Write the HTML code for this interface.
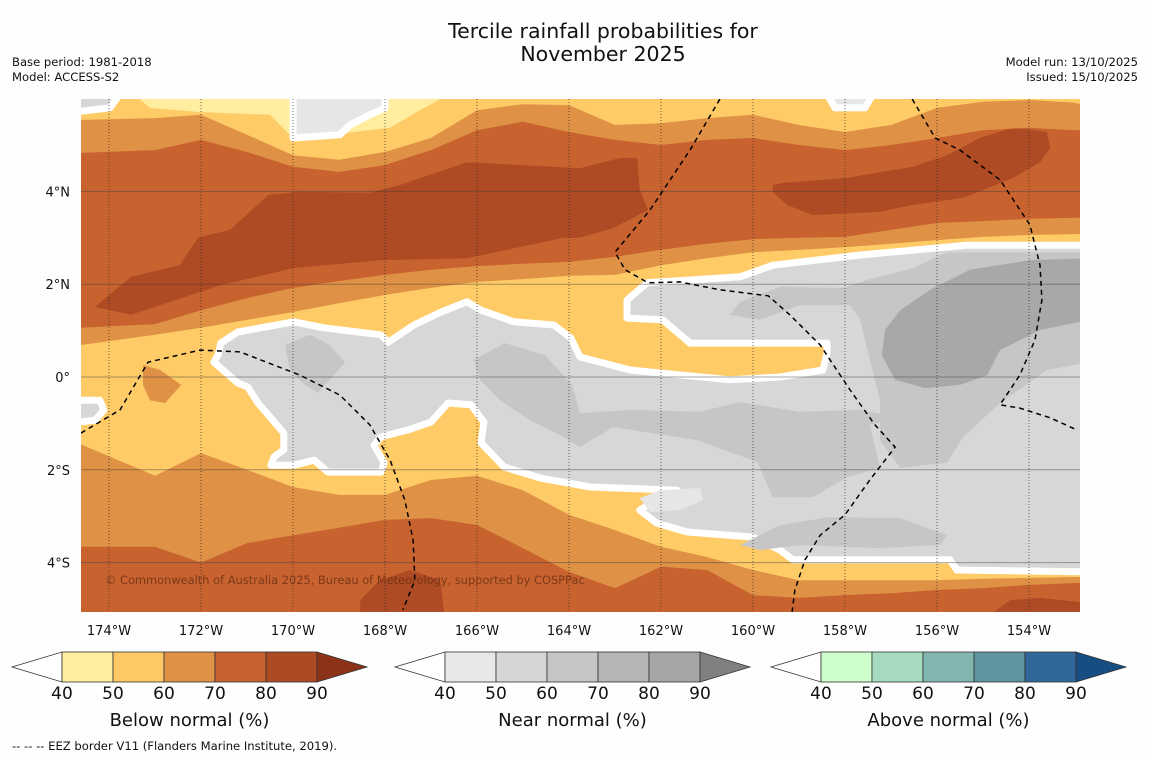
<!DOCTYPE html>
<html><head><meta charset="utf-8"><style>
html,body{margin:0;padding:0;background:#fff;}
svg{display:block;font-family:"DejaVu Sans","Liberation Sans",sans-serif;}
</style></head><body>
<svg id="chart" width="1150" height="758" viewBox="0 0 1150 758" xmlns="http://www.w3.org/2000/svg">
<rect width="1150" height="758" fill="#fefefe"/>
<text x="603" y="38" text-anchor="middle" font-size="20.5" fill="#111">Tercile rainfall probabilities for</text>
<text x="603" y="61" text-anchor="middle" font-size="20.5" fill="#111">November 2025</text>
<text x="12" y="66" font-size="11.6" fill="#111">Base period: 1981-2018</text>
<text x="12" y="81" font-size="11.6" fill="#111">Model: ACCESS-S2</text>
<text x="1138" y="66" font-size="11.6" text-anchor="end" fill="#111">Model run: 13/10/2025</text>
<text x="1138" y="81" font-size="11.6" text-anchor="end" fill="#111">Issued: 15/10/2025</text>
<defs><clipPath id="mapclip"><rect x="81" y="99" width="999" height="513"/></clipPath></defs>
<g id="map" clip-path="url(#mapclip)"></g>
<g id="axes"></g>
<g id="legend"></g>
<text x="12" y="750" font-size="11.6" fill="#111">--  --  -- EEZ border V11 (Flanders Marine Institute, 2019).</text>
</svg>
<script>
// ---- data ----
const lonTicks = [-174,-172,-170,-168,-166,-164,-162,-160,-158,-156,-154];
const latTicks = [4,2,0,-2,-4];
const sampleLon = [-174.61,-173,-172,-171,-170,-169,-168,-167,-166,-165,-164,-163,-162,-161,-160,-159,-158,-157,-156,-155,-154,-153,-152.89];
const northOrangeBottom = [0.69,0.91,1.06,1.23,1.40,1.59,1.77,1.92,2.05,2.11,2.18,2.20,2.41,2.56,2.69,2.74,2.80,2.87,2.95,3.02,3.06,3.08,3.08];
const northRedBottom = [1.06,1.14,1.44,1.70,1.92,2.07,2.20,2.31,2.39,2.44,2.48,2.59,2.74,2.87,2.97,3.00,3.02,3.17,3.32,3.36,3.41,3.43,3.43];
const northRedTop = [4.83,4.89,5.11,4.85,4.53,4.42,4.57,4.89,5.32,5.50,5.28,5.11,5.00,5.11,5.15,5.00,4.89,5.00,5.15,5.32,5.37,5.32,5.32];
const northOrangeTop = [5.54,5.58,5.65,5.22,4.78,4.68,4.85,5.15,5.75,5.88,5.86,5.43,5.47,5.58,5.65,5.43,5.28,5.43,5.80,5.93,5.97,5.91,5.88];
const southOrangeTop = [-1.45,-2.13,-1.64,-2.00,-2.37,-2.54,-2.54,-2.22,-2.13,-2.44,-2.97,-3.30,-3.66,-3.88,-4.16,-4.38,-4.38,-4.38,-4.38,-4.35,-4.33,-4.31,-4.31];
const southRedTop = [-3.66,-3.66,-4.00,-3.58,-3.41,-3.25,-3.08,-3.04,-3.19,-3.69,-4.20,-4.55,-4.09,-4.16,-4.70,-4.76,-4.70,-4.66,-4.59,-4.55,-4.48,-4.44,-4.44];
const brownNorthWest = [[-174.30,1.51],[-173.52,2.16],[-172.46,2.41],[-172.07,3.00],[-171.37,3.17],[-170.54,3.92],[-169.85,3.99],[-168.33,3.97],[-167.67,4.14],[-166.22,4.63],[-163.76,4.50],[-162.89,4.72],[-162.52,4.72],[-162.46,4.03],[-162.28,3.60],[-163.04,3.21],[-163.76,3.00],[-164.11,3.00],[-166.22,2.56],[-168.09,2.52],[-169.98,2.35],[-171.57,1.98],[-172.43,1.70],[-173.52,1.34]];
const brownNorthEast = [[-159.57,4.14],[-159.35,4.18],[-157.96,4.29],[-156.52,4.53],[-155.78,4.78],[-155.07,5.15],[-154.35,5.37],[-153.61,5.28],[-153.54,4.94],[-153.76,4.63],[-154.35,4.29],[-155.43,3.86],[-156.52,3.71],[-157.24,3.56],[-158.70,3.49],[-159.26,3.71],[-159.57,3.99]];
const lightYellowTop = [[-173.33,5.99],[-166.80,5.99],[-167.24,5.75],[-167.89,5.37],[-169.20,5.22],[-170.07,5.22],[-170.50,5.65],[-172.02,5.71],[-173.11,5.80]];
const grayTopA = [[-170.0,6.1],[-168.0,6.1],[-168.0,5.80],[-168.33,5.65],[-168.76,5.43],[-168.98,5.22],[-170.0,5.15]];
const grayTopB = [[-158.39,6.1],[-157.39,6.1],[-157.57,5.80],[-158.22,5.80]];
const grayTopC = [[-174.8,6.1],[-173.76,6.1],[-173.98,5.80],[-174.8,5.71]];
const orangeBlob = [[-173.26,0.26],[-172.89,0.15],[-172.43,-0.17],[-172.78,-0.56],[-173.11,-0.50],[-173.26,-0.17]];
const nearNormalMain = [[-171.57,0.73],[-171.20,0.97],[-169.98,1.19],[-169.33,1.06],[-168.09,0.91],[-167.93,0.75],[-167.37,1.12],[-166.78,1.40],[-166.22,1.62],[-165.91,1.44],[-165.20,1.19],[-164.33,1.12],[-163.96,0.84],[-163.76,0.43],[-162.67,0.15],[-160.50,-0.06],[-159.41,0.00],[-158.48,0.15],[-158.39,0.52],[-158.39,0.73],[-161.37,0.73],[-161.96,1.23],[-162.74,1.27],[-162.74,1.66],[-162.30,2.03],[-160.28,2.16],[-159.57,2.41],[-157.67,2.63],[-155.35,2.84],[-152.7,2.84],[-152.7,-4.20],[-155.57,-4.16],[-155.72,-3.94],[-159.13,-3.94],[-159.41,-3.73],[-160.00,-3.45],[-161.43,-3.34],[-162.09,-3.15],[-162.46,-2.87],[-162.02,-2.59],[-161.65,-2.44],[-163.54,-2.37],[-164.61,-2.18],[-165.41,-1.94],[-165.91,-1.42],[-165.85,-0.97],[-166.13,-0.60],[-166.63,-0.56],[-167.00,-0.97],[-167.50,-1.14],[-168.09,-1.29],[-168.24,-1.47],[-168.02,-1.85],[-168.09,-2.05],[-169.24,-2.05],[-169.54,-1.79],[-169.98,-1.90],[-170.48,-1.90],[-170.41,-1.72],[-170.20,-1.57],[-170.20,-1.21],[-170.76,-0.56],[-170.98,-0.22],[-171.20,-0.13],[-171.72,0.32],[-171.63,0.47]];
const nearNormalEdge = [[-174.8,-0.50],[-174.20,-0.50],[-174.11,-0.71],[-174.30,-0.93],[-174.8,-0.99]];
const near60West = [[-170.17,0.69],[-169.63,0.91],[-169.20,0.69],[-168.87,0.32],[-169.20,-0.06],[-169.46,-0.34],[-169.74,-0.17],[-170.07,0.15]];
const near60Centre = [[-166.07,0.37],[-165.39,0.73],[-164.52,0.47],[-163.93,-0.17],[-163.76,-0.78],[-162.67,-0.71],[-161.15,-0.75],[-160.28,-0.54],[-158.98,-0.75],[-157.67,-0.71],[-156.80,-0.88],[-157.46,-1.03],[-157.24,-1.96],[-157.96,-2.16],[-158.70,-2.59],[-159.57,-2.59],[-159.91,-1.83],[-161.22,-1.36],[-163.04,-1.08],[-163.76,-1.51],[-164.20,-1.25],[-164.85,-0.93],[-165.50,-0.50],[-165.93,-0.06]];
const near60East = [[-160.50,1.34],[-160.28,1.62],[-159.41,1.94],[-158.04,1.92],[-157.52,2.09],[-156.52,2.35],[-155.78,2.69],[-152.7,2.69],[-152.7,0.32],[-153.61,0.15],[-154.63,-0.56],[-155.43,-1.29],[-155.78,-1.85],[-156.80,-1.96],[-157.24,-1.36],[-157.24,-0.50],[-157.46,0.37],[-157.67,1.23],[-157.89,1.55],[-158.98,1.55],[-159.85,1.23]];
const near60South = [[-160.28,-3.62],[-159.41,-3.19],[-158.33,-3.02],[-156.80,-3.04],[-155.78,-3.41],[-155.93,-3.62],[-157.24,-3.69],[-158.98,-3.62],[-159.85,-3.73]];
const near80East = [[-157.13,1.01],[-156.80,1.44],[-156.15,1.88],[-155.28,2.31],[-153.98,2.52],[-152.7,2.56],[-152.7,1.23],[-153.76,1.01],[-154.63,0.58],[-154.91,0.04],[-155.50,-0.17],[-156.26,-0.24],[-156.91,-0.06],[-157.20,0.47]];
const near40Patch = [[-162.46,-2.61],[-162.02,-2.44],[-161.15,-2.39],[-161.09,-2.65],[-161.59,-2.87],[-162.24,-2.91]];
const brownSouthA = [[-168.54,-4.81],[-168.11,-4.38],[-167.46,-4.16],[-166.80,-4.38],[-166.70,-5.2],[-168.54,-5.2]];
const brownSouthB = [[-154.96,-5.2],[-154.41,-4.81],[-153.76,-4.76],[-152.7,-4.87],[-152.7,-5.2]];
const eezWest = [[-174.61,-1.21],[-173.76,-0.71],[-173.15,0.32],[-172.02,0.58],[-171.15,0.54],[-169.85,0.04],[-168.98,-0.39],[-168.33,-1.03],[-167.89,-1.79],[-167.57,-2.65],[-167.39,-3.51],[-167.35,-4.38],[-167.61,-5.02]];
const eezCentre = [[-160.72,5.99],[-161.37,4.89],[-162.24,3.60],[-163.00,2.69],[-162.78,2.31],[-162.28,2.03],[-161.59,2.05],[-160.72,1.88],[-159.67,1.75],[-159.20,1.34],[-158.54,0.69],[-157.89,-0.28],[-157.35,-1.03],[-156.91,-1.51],[-157.46,-2.22],[-158.00,-2.97],[-158.54,-3.41],[-158.87,-3.94],[-159.09,-4.59],[-159.15,-5.06]];
const eezEast = [[-156.54,5.99],[-156.04,5.15],[-155.50,4.89],[-154.63,4.25],[-153.98,3.28],[-153.76,2.41],[-153.72,1.66],[-153.87,0.80],[-154.20,0.04],[-154.63,-0.60],[-154.20,-0.67],[-153.54,-0.88],[-152.96,-1.14]];
const legendLevels = [40,50,60,70,80,90];
const belowColors = ["#ffeda0","#fec965","#df9245","#c8622f","#ad4a24"];
const nearColors = ["#e8e8e8","#d6d6d6","#c6c6c6","#b5b5b5","#a5a5a5"];
const aboveColors = ["#ccffcc","#a6dbc0","#82b6b0","#5e94a0","#32679a"];
const legendTitles = ["Below normal (%)","Near normal (%)","Above normal (%)"];

// ---- axes ----
const X = lon => 109 + 46*(lon+174);
const Y = lat => 377 - 46.4*lat;
const NS = "http://www.w3.org/2000/svg";
const map = document.getElementById('map');
const axes = document.getElementById('axes');
const legend = document.getElementById('legend');
const TOP = 6.2, BOT = -5.3;
const C = {yellow:"#fecb66", orange:"#df9245", red:"#c8622f", brown:"#ae4a24", ly:"#ffeda0", g50:"#d7d7d7", g60:"#c6c6c6", g80:"#a8a8a8", g40:"#e6e6e6"};

function mk(tag, attrs, parent){const e=document.createElementNS(NS,tag);for(const k in attrs)e.setAttribute(k,attrs[k]);parent.appendChild(e);return e;}
function ptsOf(arr){return arr.map(p=>X(p[0]).toFixed(1)+','+Y(p[1]).toFixed(1)).join(' ');}
function curveFill(lats, toLat){const pts=sampleLon.map((l,i)=>[l,lats[i]]);pts.push([sampleLon[sampleLon.length-1]+0.3,lats[lats.length-1]],[sampleLon[sampleLon.length-1]+0.3,toLat],[sampleLon[0]-0.3,toLat],[sampleLon[0]-0.3,lats[0]]);return pts;}
function poly(arr, fill, name, stroke){
  const e=mk('polygon',{points:ptsOf(arr),fill:fill},map);
  if(stroke){e.setAttribute('stroke','#fff');e.setAttribute('stroke-width','7');e.setAttribute('stroke-linejoin','round');}
  
  
  return e;
}
const bg = mk('rect',{x:81,y:99,width:999,height:513,fill:C.yellow},map);


poly(curveFill(northOrangeBottom,TOP),C.orange,'north-60-70-band');
poly(curveFill(northRedBottom,TOP),C.red,'north-70-80-band');
poly(brownNorthWest,C.brown,'north-west-80-90-band');
poly(brownNorthEast,C.brown,'north-east-80-90-band');
poly(curveFill(northRedTop,TOP),C.orange,'north-top-60-70-band');
poly(curveFill(northOrangeTop,TOP),C.yellow,'north-top-50-60-band');
poly(lightYellowTop,C.ly,'north-top-40-50-patch');
poly(grayTopA,C.g40,'near-normal-top-patch-a',true);
poly(grayTopB,C.g40,'near-normal-top-patch-b',true);
poly(grayTopC,C.g50,'near-normal-top-patch-c',true);
poly(orangeBlob,C.orange,'equator-60-70-blob');
poly(curveFill(southOrangeTop,BOT),C.orange,'south-60-70-band');
poly(curveFill(southRedTop,BOT),C.red,'south-70-80-band');
poly(brownSouthA,C.brown,'south-80-90-patch-a');
poly(brownSouthB,C.brown,'south-80-90-patch-b');
poly(nearNormalMain,C.g50,'near-normal-region',true);
poly(nearNormalEdge,C.g50,'near-normal-edge-patch',true);
poly(near60West,C.g60,'near-normal-60-west');
poly(near60Centre,C.g60,'near-normal-60-centre');
poly(near60East,C.g60,'near-normal-60-east');
poly(near60South,C.g60,'near-normal-60-south');
poly(near80East,C.g80,'near-normal-80-east');
poly(near40Patch,C.g40,'near-normal-40-patch');

// gridlines
latTicks.forEach(lat=>{
  const l=mk('line',{x1:81,x2:1080,y1:Y(lat),y2:Y(lat),stroke:'rgba(60,60,60,0.45)','stroke-width':1},map);
  
  
});
lonTicks.forEach(lon=>{
  const l=mk('line',{x1:X(lon),x2:X(lon),y1:99,y2:612,stroke:'rgba(40,40,40,0.7)','stroke-width':1,'stroke-dasharray':'1,2'},map);
  
  
});
// EEZ borders
[[eezWest,'eez-border-west'],[eezCentre,'eez-border-centre'],[eezEast,'eez-border-east']].forEach(([arr,name])=>{
  const l=mk('polyline',{points:ptsOf(arr),fill:'none',stroke:'#000','stroke-width':1.5,'stroke-dasharray':'5,4'},map);
  
  
});
const cp=mk('text',{x:105,y:584,'font-size':11.4,fill:'rgba(110,50,20,0.85)'},map);
cp.textContent='© Commonwealth of Australia 2025, Bureau of Meteorology, supported by COSPPac';



// tick labels
latTicks.forEach(lat=>{
  const t=mk('text',{x:70,y:Y(lat)+5,'text-anchor':'end','font-size':13,fill:'#111'},axes);
  t.textContent = lat===0 ? '0°' : Math.abs(lat)+'°'+(lat>0?'N':'S');
  
  
});
lonTicks.forEach(lon=>{
  const t=mk('text',{x:X(lon),y:635,'text-anchor':'middle','font-size':13,fill:'#111'},axes);
  t.textContent = Math.abs(lon)+'°W';
  
  
});

// colorbars
const bars=[{x0:12,colors:belowColors,tip:'#8c3219'},{x0:395,colors:nearColors,tip:'#808080'},{x0:771,colors:aboveColors,tip:'#164d82'}];
bars.forEach((b,bi)=>{
  const g=mk('g',{},legend);
  
  
  const sx=b.x0+50, w=51, y0=652, y1=682, ym=667;
  const lt=mk('polygon',{points:`${b.x0},${ym} ${sx},${y0} ${sx},${y1}`,fill:'#fff',stroke:'#333','stroke-width':0.8},g);
  
  
  b.colors.forEach((c,i)=>{
    const r=mk('rect',{x:sx+i*w,y:y0,width:w,height:y1-y0,fill:c,stroke:'#333','stroke-width':0.8},g);
    
    
  });
  const ex=sx+w*b.colors.length;
  const rt=mk('polygon',{points:`${ex},${y0} ${ex+50},${ym} ${ex},${y1}`,fill:b.tip,stroke:'#333','stroke-width':0.8},g);
  
  
  legendLevels.forEach((v,i)=>{
    const t=mk('text',{x:sx+i*w,y:699,'text-anchor':'middle','font-size':17,fill:'#111'},g);
    t.textContent=v;
    
    
  });
  const tt=mk('text',{x:sx+w*2.5,y:726,'text-anchor':'middle','font-size':18,fill:'#111'},g);
  tt.textContent=legendTitles[bi];
  
  
});
</script>
</body></html>
